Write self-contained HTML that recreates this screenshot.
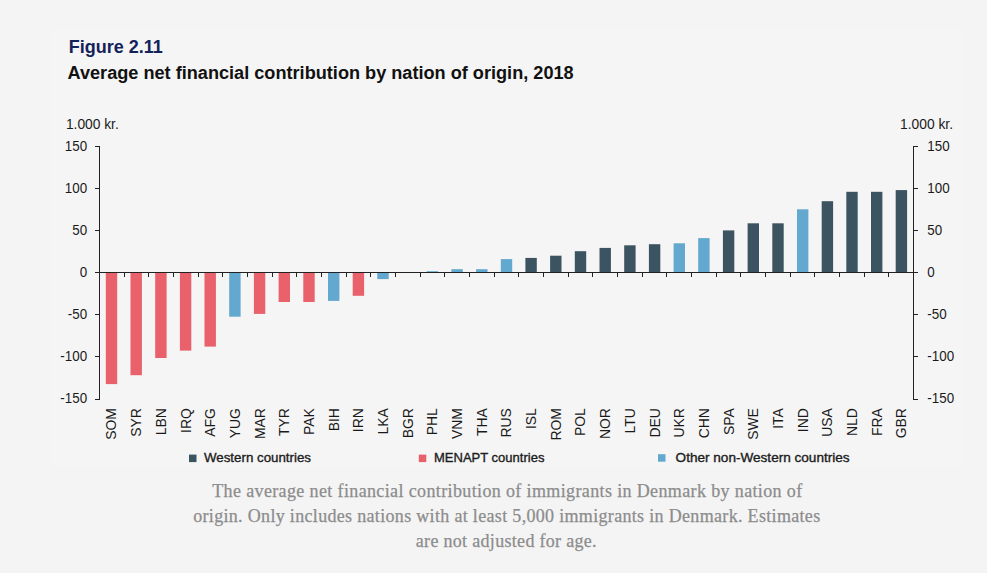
<!DOCTYPE html>
<html><head><meta charset="utf-8"><title>Figure 2.11</title>
<style>
html,body{margin:0;padding:0;}
body{width:987px;height:573px;overflow:hidden;background:#f4f4f4;font-family:"Liberation Sans",sans-serif;}
svg{display:block;position:absolute;left:0;top:0;}
text{font-family:"Liberation Sans",sans-serif;}
.cap{font-family:"Liberation Serif",serif;}
</style></head><body>
<svg width="987" height="573" viewBox="0 0 987 573">
<rect x="51" y="28" width="912" height="439" fill="#f5f5f5"/>
<text transform="translate(68.8 52.8) scale(1 1.04)" font-size="18" font-weight="bold" fill="#14225a">Figure 2.11</text>
<text transform="translate(67.5 78.6) scale(1 1.04)" font-size="18.15" font-weight="bold" fill="#111">Average net financial contribution by nation of origin, 2018</text>
<text transform="translate(65.9 128.8) scale(1 1.04)" font-size="13.8" fill="#1a1a1a">1.000 kr.</text>
<text transform="translate(953 128.8) scale(1 1.04)" font-size="13.8" fill="#1a1a1a" text-anchor="end">1.000 kr.</text>
<rect x="105.8" y="272.5" width="11.4" height="111.6" fill="#e8616b"/>
<rect x="130.5" y="272.5" width="11.4" height="102.7" fill="#e8616b"/>
<rect x="155.2" y="272.5" width="11.4" height="85.5" fill="#e8616b"/>
<rect x="179.9" y="272.5" width="11.4" height="78.1" fill="#e8616b"/>
<rect x="204.5" y="272.5" width="11.4" height="74.1" fill="#e8616b"/>
<rect x="229.2" y="272.5" width="11.4" height="44.2" fill="#62a8cf"/>
<rect x="253.9" y="272.5" width="11.4" height="41.4" fill="#e8616b"/>
<rect x="278.6" y="272.5" width="11.4" height="29.5" fill="#e8616b"/>
<rect x="303.3" y="272.5" width="11.4" height="29.5" fill="#e8616b"/>
<rect x="328.0" y="272.5" width="11.4" height="28.4" fill="#62a8cf"/>
<rect x="352.7" y="272.5" width="11.4" height="23.3" fill="#e8616b"/>
<rect x="377.3" y="272.5" width="11.4" height="6.6" fill="#62a8cf"/>
<rect x="426.7" y="271.2" width="11.4" height="1.2" fill="#62a8cf"/>
<rect x="451.4" y="269.2" width="11.4" height="3.2" fill="#62a8cf"/>
<rect x="476.1" y="269.2" width="11.4" height="3.2" fill="#62a8cf"/>
<rect x="500.8" y="259.1" width="11.4" height="13.4" fill="#62a8cf"/>
<rect x="525.4" y="257.9" width="11.4" height="14.7" fill="#3c5462"/>
<rect x="550.1" y="255.7" width="11.4" height="16.9" fill="#3c5462"/>
<rect x="574.8" y="251.2" width="11.4" height="21.2" fill="#3c5462"/>
<rect x="599.5" y="247.9" width="11.4" height="24.6" fill="#3c5462"/>
<rect x="624.2" y="245.3" width="11.4" height="27.1" fill="#3c5462"/>
<rect x="648.9" y="244.2" width="11.4" height="28.4" fill="#3c5462"/>
<rect x="673.6" y="243.3" width="11.4" height="29.1" fill="#62a8cf"/>
<rect x="698.2" y="238.1" width="11.4" height="34.5" fill="#62a8cf"/>
<rect x="722.9" y="230.4" width="11.4" height="42.0" fill="#3c5462"/>
<rect x="747.6" y="223.3" width="11.4" height="49.1" fill="#3c5462"/>
<rect x="772.3" y="223.3" width="11.4" height="49.1" fill="#3c5462"/>
<rect x="797.0" y="209.3" width="11.4" height="63.1" fill="#62a8cf"/>
<rect x="821.7" y="201.2" width="11.4" height="71.2" fill="#3c5462"/>
<rect x="846.3" y="191.8" width="11.4" height="80.7" fill="#3c5462"/>
<rect x="871.0" y="191.8" width="11.4" height="80.7" fill="#3c5462"/>
<rect x="895.7" y="190.1" width="11.4" height="82.5" fill="#3c5462"/>
<g stroke="#222" stroke-width="1" fill="none">
<path d="M99.5 146V400M913.5 146V400M99.5 272.5H913.5"/>
<path d="M95.0 146.5H99.5M913.5 146.5H918.0M95.0 188.5H99.5M913.5 188.5H918.0M95.0 230.5H99.5M913.5 230.5H918.0M95.0 272.5H99.5M913.5 272.5H918.0M95.0 314.5H99.5M913.5 314.5H918.0M95.0 356.5H99.5M913.5 356.5H918.0M95.0 399.5H99.5M913.5 399.5H918.0"/>
<path d="M124.5 272.5V277.0M148.5 272.5V277.0M173.5 272.5V277.0M198.5 272.5V277.0M222.5 272.5V277.0M247.5 272.5V277.0M272.5 272.5V277.0M296.5 272.5V277.0M321.5 272.5V277.0M346.5 272.5V277.0M370.5 272.5V277.0M395.5 272.5V277.0M420.5 272.5V277.0M444.5 272.5V277.0M469.5 272.5V277.0M494.5 272.5V277.0M518.5 272.5V277.0M543.5 272.5V277.0M568.5 272.5V277.0M592.5 272.5V277.0M617.5 272.5V277.0M642.5 272.5V277.0M666.5 272.5V277.0M691.5 272.5V277.0M716.5 272.5V277.0M740.5 272.5V277.0M765.5 272.5V277.0M790.5 272.5V277.0M814.5 272.5V277.0M839.5 272.5V277.0M864.5 272.5V277.0M888.5 272.5V277.0"/>
</g>
<text transform="translate(87.1 151.1) scale(1 1.04)" font-size="13.4" fill="#1a1a1a" text-anchor="end">150</text>
<text transform="translate(927.3 151.1) scale(1 1.04)" font-size="13.4" fill="#1a1a1a">150</text>
<text transform="translate(87.1 193.1) scale(1 1.04)" font-size="13.4" fill="#1a1a1a" text-anchor="end">100</text>
<text transform="translate(927.3 193.1) scale(1 1.04)" font-size="13.4" fill="#1a1a1a">100</text>
<text transform="translate(87.1 235.1) scale(1 1.04)" font-size="13.4" fill="#1a1a1a" text-anchor="end">50</text>
<text transform="translate(927.3 235.1) scale(1 1.04)" font-size="13.4" fill="#1a1a1a">50</text>
<text transform="translate(87.1 277.1) scale(1 1.04)" font-size="13.4" fill="#1a1a1a" text-anchor="end">0</text>
<text transform="translate(927.3 277.1) scale(1 1.04)" font-size="13.4" fill="#1a1a1a">0</text>
<text transform="translate(87.1 319.1) scale(1 1.04)" font-size="13.4" fill="#1a1a1a" text-anchor="end">-50</text>
<text transform="translate(927.3 319.1) scale(1 1.04)" font-size="13.4" fill="#1a1a1a">-50</text>
<text transform="translate(87.1 361.1) scale(1 1.04)" font-size="13.4" fill="#1a1a1a" text-anchor="end">-100</text>
<text transform="translate(927.3 361.1) scale(1 1.04)" font-size="13.4" fill="#1a1a1a">-100</text>
<text transform="translate(87.1 403.1) scale(1 1.04)" font-size="13.4" fill="#1a1a1a" text-anchor="end">-150</text>
<text transform="translate(927.3 403.1) scale(1 1.04)" font-size="13.4" fill="#1a1a1a">-150</text>
<text transform="translate(116.4 408.2) rotate(-90) scale(1 1.04)" font-size="13.9" fill="#1a1a1a" text-anchor="end">SOM</text>
<text transform="translate(141.1 408.2) rotate(-90) scale(1 1.04)" font-size="13.9" fill="#1a1a1a" text-anchor="end">SYR</text>
<text transform="translate(165.8 408.2) rotate(-90) scale(1 1.04)" font-size="13.9" fill="#1a1a1a" text-anchor="end">LBN</text>
<text transform="translate(190.5 408.2) rotate(-90) scale(1 1.04)" font-size="13.9" fill="#1a1a1a" text-anchor="end">IRQ</text>
<text transform="translate(215.1 408.2) rotate(-90) scale(1 1.04)" font-size="13.9" fill="#1a1a1a" text-anchor="end">AFG</text>
<text transform="translate(239.8 408.2) rotate(-90) scale(1 1.04)" font-size="13.9" fill="#1a1a1a" text-anchor="end">YUG</text>
<text transform="translate(264.5 408.2) rotate(-90) scale(1 1.04)" font-size="13.9" fill="#1a1a1a" text-anchor="end">MAR</text>
<text transform="translate(289.2 408.2) rotate(-90) scale(1 1.04)" font-size="13.9" fill="#1a1a1a" text-anchor="end">TYR</text>
<text transform="translate(313.9 408.2) rotate(-90) scale(1 1.04)" font-size="13.9" fill="#1a1a1a" text-anchor="end">PAK</text>
<text transform="translate(338.6 408.2) rotate(-90) scale(1 1.04)" font-size="13.9" fill="#1a1a1a" text-anchor="end">BIH</text>
<text transform="translate(363.2 408.2) rotate(-90) scale(1 1.04)" font-size="13.9" fill="#1a1a1a" text-anchor="end">IRN</text>
<text transform="translate(387.9 408.2) rotate(-90) scale(1 1.04)" font-size="13.9" fill="#1a1a1a" text-anchor="end">LKA</text>
<text transform="translate(412.6 408.2) rotate(-90) scale(1 1.04)" font-size="13.9" fill="#1a1a1a" text-anchor="end">BGR</text>
<text transform="translate(437.3 408.2) rotate(-90) scale(1 1.04)" font-size="13.9" fill="#1a1a1a" text-anchor="end">PHL</text>
<text transform="translate(462.0 408.2) rotate(-90) scale(1 1.04)" font-size="13.9" fill="#1a1a1a" text-anchor="end">VNM</text>
<text transform="translate(486.7 408.2) rotate(-90) scale(1 1.04)" font-size="13.9" fill="#1a1a1a" text-anchor="end">THA</text>
<text transform="translate(511.4 408.2) rotate(-90) scale(1 1.04)" font-size="13.9" fill="#1a1a1a" text-anchor="end">RUS</text>
<text transform="translate(536.0 408.2) rotate(-90) scale(1 1.04)" font-size="13.9" fill="#1a1a1a" text-anchor="end">ISL</text>
<text transform="translate(560.7 408.2) rotate(-90) scale(1 1.04)" font-size="13.9" fill="#1a1a1a" text-anchor="end">ROM</text>
<text transform="translate(585.4 408.2) rotate(-90) scale(1 1.04)" font-size="13.9" fill="#1a1a1a" text-anchor="end">POL</text>
<text transform="translate(610.1 408.2) rotate(-90) scale(1 1.04)" font-size="13.9" fill="#1a1a1a" text-anchor="end">NOR</text>
<text transform="translate(634.8 408.2) rotate(-90) scale(1 1.04)" font-size="13.9" fill="#1a1a1a" text-anchor="end">LTU</text>
<text transform="translate(659.5 408.2) rotate(-90) scale(1 1.04)" font-size="13.9" fill="#1a1a1a" text-anchor="end">DEU</text>
<text transform="translate(684.2 408.2) rotate(-90) scale(1 1.04)" font-size="13.9" fill="#1a1a1a" text-anchor="end">UKR</text>
<text transform="translate(708.8 408.2) rotate(-90) scale(1 1.04)" font-size="13.9" fill="#1a1a1a" text-anchor="end">CHN</text>
<text transform="translate(733.5 408.2) rotate(-90) scale(1 1.04)" font-size="13.9" fill="#1a1a1a" text-anchor="end">SPA</text>
<text transform="translate(758.2 408.2) rotate(-90) scale(1 1.04)" font-size="13.9" fill="#1a1a1a" text-anchor="end">SWE</text>
<text transform="translate(782.9 408.2) rotate(-90) scale(1 1.04)" font-size="13.9" fill="#1a1a1a" text-anchor="end">ITA</text>
<text transform="translate(807.6 408.2) rotate(-90) scale(1 1.04)" font-size="13.9" fill="#1a1a1a" text-anchor="end">IND</text>
<text transform="translate(832.3 408.2) rotate(-90) scale(1 1.04)" font-size="13.9" fill="#1a1a1a" text-anchor="end">USA</text>
<text transform="translate(856.9 408.2) rotate(-90) scale(1 1.04)" font-size="13.9" fill="#1a1a1a" text-anchor="end">NLD</text>
<text transform="translate(881.6 408.2) rotate(-90) scale(1 1.04)" font-size="13.9" fill="#1a1a1a" text-anchor="end">FRA</text>
<text transform="translate(906.3 408.2) rotate(-90) scale(1 1.04)" font-size="13.9" fill="#1a1a1a" text-anchor="end">GBR</text>
<rect x="189" y="454.6" width="7.5" height="7.5" fill="#3c5462"/>
<text x="204" y="462.3" font-size="13" textLength="107" lengthAdjust="spacingAndGlyphs" fill="#1c1c1c" stroke="#1c1c1c" stroke-width="0.35">Western countries</text>
<rect x="418.8" y="454.6" width="7.5" height="7.5" fill="#e8616b"/>
<text x="434" y="462.2" font-size="13" textLength="110.4" lengthAdjust="spacingAndGlyphs" fill="#1c1c1c" stroke="#1c1c1c" stroke-width="0.35">MENAPT countries</text>
<rect x="658" y="454.2" width="7.5" height="7.5" fill="#62a8cf"/>
<text x="675.6" y="461.6" font-size="13" textLength="174" lengthAdjust="spacingAndGlyphs" fill="#1c1c1c" stroke="#1c1c1c" stroke-width="0.35">Other non-Western countries</text>
<text class="cap" x="212.2" y="497.3" font-size="18" textLength="590" lengthAdjust="spacing" fill="#8c8c8c" stroke="#8c8c8c" stroke-width="0.25">The average net financial contribution of immigrants in Denmark by nation of</text>
<text class="cap" x="193.2" y="522" font-size="18" textLength="627" lengthAdjust="spacing" fill="#8c8c8c" stroke="#8c8c8c" stroke-width="0.25">origin. Only includes nations with at least 5,000 immigrants in Denmark. Estimates</text>
<text class="cap" x="415.8" y="546.8" font-size="18" textLength="180.8" lengthAdjust="spacing" fill="#8c8c8c" stroke="#8c8c8c" stroke-width="0.25">are not adjusted for age.</text>
</svg>
</body></html>
